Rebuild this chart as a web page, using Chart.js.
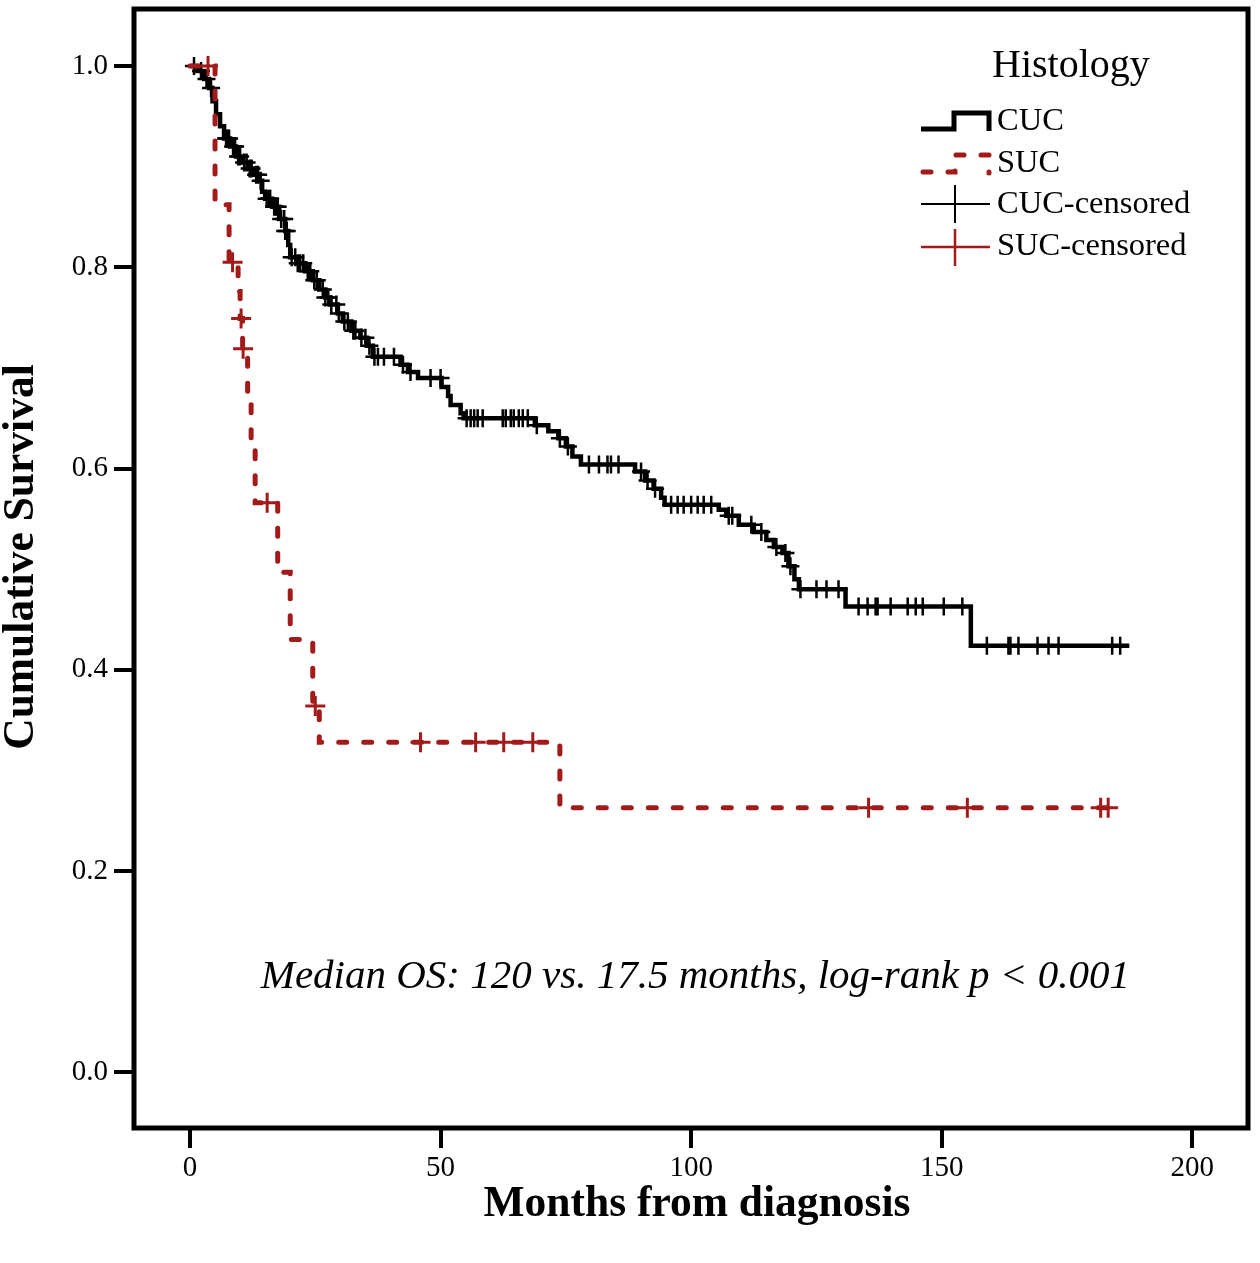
<!DOCTYPE html>
<html>
<head>
<meta charset="utf-8">
<script src="https://cdn.jsdelivr.net/npm/chart.js@4.4.1/dist/chart.umd.min.js"></script>
<style>
  html, body { margin: 0; padding: 0; background: #fff; }
  #wrap { width: 1260px; height: 1263px; position: relative; }
</style>
</head>
<body>
<div id="wrap"><canvas id="c"></canvas></div>
<script>
// ---- Data ----
const xTickValues = [0, 50, 100, 150, 200];
const yTickValues = [0.0, 0.2, 0.4, 0.6, 0.8, 1.0];

// CUC Kaplan-Meier steps (months, survival after the step)
const cucTimes = [0, 1.5, 2.8, 3.8, 4.5, 5.2, 6, 6.8, 8, 9.2, 10.5, 11.6, 12.8, 13.8, 14.4, 15, 16.4, 17.8, 19, 19.6, 20, 21.3, 23, 24.5, 25.8, 27, 28, 29.5, 30.5, 32.2, 34, 35.3, 36.5, 42, 43.5, 45.5, 50.2, 51.5, 52, 54, 54.6, 68.8, 71.5, 73.5, 75, 76.3, 78, 88.8, 90.8, 92.5, 94, 94.7, 105.5, 107, 109.5, 112.5, 115, 116.5, 118.2, 119.4, 120.6, 121.5, 130.8, 155.8, 187.4];
const cucSurv = [1.0, 0.995, 0.987, 0.978, 0.965, 0.952, 0.94, 0.928, 0.92, 0.91, 0.904, 0.898, 0.892, 0.886, 0.875, 0.868, 0.86, 0.848, 0.836, 0.822, 0.81, 0.804, 0.796, 0.787, 0.778, 0.77, 0.763, 0.754, 0.746, 0.737, 0.73, 0.722, 0.711, 0.703, 0.696, 0.69, 0.681, 0.672, 0.663, 0.655, 0.65, 0.643, 0.637, 0.63, 0.622, 0.612, 0.604, 0.597, 0.588, 0.58, 0.571, 0.564, 0.559, 0.553, 0.544, 0.537, 0.529, 0.522, 0.516, 0.503, 0.49, 0.48, 0.463, 0.424, 0.424];

// CUC censored observations
const cucCensTimes = [0.8, 2.2, 3.3, 4.2, 7.2, 7.5, 7.8, 8.6, 9, 9.6, 10, 10.8, 11.3, 11.9, 12.3, 13.2, 13.6, 14.1, 15.3, 15.8, 16, 16.8, 17.2, 17.5, 18.2, 18.8, 19.0, 19.3, 20.3, 21, 21.5, 22, 22.6, 23.5, 24, 24.8, 25.3, 26.5, 27, 27.6, 28.2, 29.2, 29.7, 30.8, 31.5, 32.6, 33, 34.2, 35, 35.8, 36.8, 37.5, 38.7, 40.7, 42.5, 44, 48, 50, 55.2, 56, 56.7, 57.4, 58.4, 62.4, 63, 64, 64.6, 65.6, 66.4, 67.4, 69.2, 73.8, 75.4, 79.6, 81.6, 83.3, 84, 85.5, 90, 91.3, 92.8, 96, 97.3, 98.5, 100, 101.3, 102.5, 104, 107.5, 108.2, 112, 114, 117, 118.8, 119.8, 121.8, 125, 127, 129.4, 133.4, 135.2, 136.8, 137.2, 139.8, 143.2, 144.8, 146.2, 150.4, 154.1, 159, 163.3, 163.7, 165.3, 169.1, 171.3, 173.3, 184, 185.6];
const cucCensSurv = [1.0, 0.995, 0.987, 0.978, 0.928, 0.928, 0.928, 0.92, 0.92, 0.91, 0.91, 0.904, 0.904, 0.898, 0.898, 0.892, 0.892, 0.886, 0.868, 0.868, 0.868, 0.86, 0.86, 0.86, 0.848, 0.848, 0.836, 0.836, 0.81, 0.81, 0.804, 0.804, 0.804, 0.796, 0.796, 0.787, 0.787, 0.778, 0.77, 0.77, 0.763, 0.763, 0.754, 0.746, 0.746, 0.737, 0.737, 0.73, 0.73, 0.722, 0.711, 0.711, 0.711, 0.711, 0.703, 0.696, 0.69, 0.69, 0.65, 0.65, 0.65, 0.65, 0.65, 0.65, 0.65, 0.65, 0.65, 0.65, 0.65, 0.65, 0.643, 0.63, 0.622, 0.604, 0.604, 0.604, 0.604, 0.604, 0.597, 0.588, 0.58, 0.564, 0.564, 0.564, 0.564, 0.564, 0.564, 0.564, 0.553, 0.553, 0.544, 0.537, 0.522, 0.516, 0.503, 0.48, 0.48, 0.48, 0.48, 0.463, 0.463, 0.463, 0.463, 0.463, 0.463, 0.463, 0.463, 0.463, 0.463, 0.424, 0.424, 0.424, 0.424, 0.424, 0.424, 0.424, 0.424, 0.424];

// SUC Kaplan-Meier steps
const sucTimes = [0, 5, 7.8, 9.6, 10, 10.5, 11.5, 12.2, 13, 17.5, 20, 24.5, 25.8, 73.8, 185.8];
const sucSurv = [1.0, 0.862, 0.805, 0.776, 0.749, 0.719, 0.67, 0.62, 0.566, 0.497, 0.43, 0.364, 0.328, 0.263, 0.263];

// SUC censored observations
const sucCensTimes = [3.6, 8.5, 10.2, 10.6, 15.4, 25.0, 46, 57, 62.6, 68.4, 135.4, 155.1, 181.7, 183.2];
const sucCensSurv = [1.0, 0.805, 0.749, 0.719, 0.566, 0.364, 0.328, 0.328, 0.328, 0.328, 0.263, 0.263, 0.263, 0.263];

const seriesNames = ['CUC', 'SUC', 'CUC-censored', 'SUC-censored'];
const legendTitle = 'Histology';
const xTitle = 'Months from diagnosis';
const yTitle = 'Cumulative Survival';
const annotation = 'Median OS: 120 vs. 17.5 months, log-rank p < 0.001';

// ---- Styling ----
const BLACK = '#000000';
const RED = '#a31a1a';
const SERIF = '"Liberation Serif", "Times New Roman", serif';

const pts = (xs, ys) => xs.map((x, i) => ({ x: x, y: ys[i] }));

const framePlugin = {
  id: 'frame',
  afterDraw(chart) {
    const { ctx, chartArea: a } = chart;
    ctx.save();
    ctx.strokeStyle = BLACK;
    ctx.lineWidth = 5;
    ctx.strokeRect(a.left, a.top, a.right - a.left, a.bottom - a.top);
    ctx.restore();
  }
};

const textPlugin = {
  id: 'texts',
  afterDraw(chart) {
    const ctx = chart.ctx;
    ctx.save();
    ctx.fillStyle = BLACK;
    ctx.textBaseline = 'alphabetic';
    ctx.textAlign = 'left';
    ctx.font = '40px ' + SERIF;
    ctx.fillText(legendTitle, 992, 77);

    ctx.font = '32.5px ' + SERIF;
    const baselines = [130, 172, 213, 255];
    seriesNames.forEach((n, i) => ctx.fillText(n, 997, baselines[i]));

    ctx.lineCap = 'butt';
    ctx.lineJoin = 'miter';
    // CUC step symbol
    ctx.strokeStyle = BLACK;
    ctx.lineWidth = 5;
    ctx.beginPath();
    ctx.moveTo(921, 129); ctx.lineTo(954, 129); ctx.lineTo(954, 113);
    ctx.lineTo(989, 113); ctx.lineTo(989, 131);
    ctx.stroke();
    // SUC dashed step symbol
    ctx.strokeStyle = RED;
    ctx.lineCap = 'round';
    ctx.setLineDash([8, 17]);
    ctx.beginPath();
    ctx.moveTo(923, 172); ctx.lineTo(955, 172); ctx.lineTo(955, 155);
    ctx.lineTo(989, 155); ctx.lineTo(989, 173);
    ctx.stroke();
    ctx.setLineDash([]);
    ctx.lineCap = 'butt';
    // CUC censored symbol
    ctx.strokeStyle = BLACK;
    ctx.lineWidth = 2;
    ctx.beginPath();
    ctx.moveTo(921, 204); ctx.lineTo(990, 204);
    ctx.moveTo(955, 185); ctx.lineTo(955, 223);
    ctx.stroke();
    // SUC censored symbol
    ctx.strokeStyle = RED;
    ctx.lineWidth = 2.5;
    ctx.beginPath();
    ctx.moveTo(921, 247); ctx.lineTo(990, 247);
    ctx.moveTo(955, 229); ctx.lineTo(955, 266);
    ctx.stroke();

    // annotation
    ctx.fillStyle = BLACK;
    ctx.font = 'italic 41px ' + SERIF;
    ctx.textAlign = 'right';
    ctx.fillText(annotation, 1130, 988);

    // axis titles
    ctx.font = 'bold 43.5px ' + SERIF;
    ctx.textAlign = 'center';
    ctx.textBaseline = 'middle';
    ctx.fillText(xTitle, 697, 1205);
    ctx.translate(22, 557);
    ctx.rotate(-Math.PI / 2);
    ctx.fillText(yTitle, 0, 0);
    ctx.restore();
  }
};

new Chart(document.getElementById('c'), {
  type: 'line',
  data: {
    datasets: [
      {
        label: seriesNames[0],
        data: pts(cucTimes, cucSurv),
        borderColor: BLACK,
        borderWidth: 4.5,
        stepped: true,
        pointRadius: 0,
        fill: false,
        order: 2
      },
      {
        label: seriesNames[1],
        data: pts(sucTimes, sucSurv),
        borderColor: RED,
        borderWidth: 5,
        borderDash: [8, 17],
        borderCapStyle: 'round',
        stepped: true,
        pointRadius: 0,
        fill: false,
        order: 1
      },
      {
        type: 'scatter',
        label: seriesNames[2],
        data: pts(cucCensTimes, cucCensSurv),
        showLine: false,
        pointStyle: 'cross',
        pointRadius: 9,
        pointBorderWidth: 2.5,
        borderColor: BLACK,
        backgroundColor: BLACK,
        order: 3
      },
      {
        type: 'scatter',
        label: seriesNames[3],
        data: pts(sucCensTimes, sucCensSurv),
        showLine: false,
        pointStyle: 'cross',
        pointRadius: 10,
        pointBorderWidth: 3,
        borderColor: RED,
        backgroundColor: RED,
        order: 0
      }
    ]
  },
  options: {
    responsive: true,
    maintainAspectRatio: false,
    animation: false,
    devicePixelRatio: 1,
    layout: { autoPadding: false, padding: { left: 0, right: 12, top: 9, bottom: 0 } },
    plugins: {
      legend: { display: false },
      tooltip: { enabled: false },
      title: { display: false }
    },
    scales: {
      x: {
        type: 'linear',
        min: -11.17,
        max: 211.1,
        afterBuildTicks: (s) => { s.ticks = xTickValues.map(v => ({ value: v })); },
        afterFit: (s) => { s.height = 135; s.paddingLeft = 0; s.paddingRight = 0; },
        border: { display: false },
        grid: { drawOnChartArea: false, drawTicks: true, tickLength: 20, lineWidth: 4, color: BLACK },
        ticks: { color: BLACK, font: { family: SERIF, size: 29 }, padding: 3, maxRotation: 0 },
        title: { display: false }
      },
      y: {
        type: 'linear',
        min: -0.0553,
        max: 1.0566,
        afterBuildTicks: (s) => { s.ticks = yTickValues.map(v => ({ value: v })); },
        afterFit: (s) => { s.width = 134; s.paddingTop = 0; s.paddingBottom = 0; },
        border: { display: false },
        grid: { drawOnChartArea: false, drawTicks: true, tickLength: 20, lineWidth: 4, color: BLACK },
        ticks: {
          color: BLACK, font: { family: SERIF, size: 29 }, padding: 6,
          callback: (v) => Number(v).toFixed(1)
        },
        title: { display: false }
      }
    }
  },
  plugins: [framePlugin, textPlugin]
});
</script>
</body>
</html>
